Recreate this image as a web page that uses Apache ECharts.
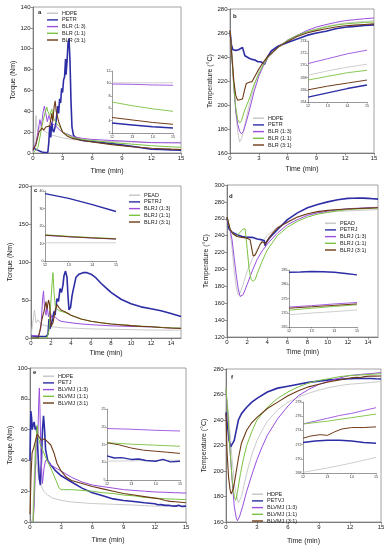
<!DOCTYPE html>
<html><head><meta charset="utf-8">
<script src="https://cdn.jsdelivr.net/npm/echarts@6/dist/echarts.min.js"></script>
<style>html,body{margin:0;padding:0;background:#fff}#c{width:388px;height:550px}</style>
</head><body><div id="c"></div>
<script>
// ---------- Panel a : torque, HDPE / PETR / BLR ----------
const namesA = ['HDPE','PETR','BLR (1:3)','BLR (1:1)','BLR (3:1)'];
const aHDPE = [[0,0],[0.15,5],[0.3,36],[0.45,20],[0.7,25],[1.0,22],[1.5,19],[2,17],[3,14.5],[4,13],[5,12],[6,11.5],[8,11],[10,10.6]];
const aPETR = [[0,5],[0.2,6],[0.4,3],[0.6,2],[0.9,1],[1.2,0.5],[1.5,0.5],[1.6,10],[1.7,26],[1.8,15],[1.9,30],[2.0,22],[2.1,20],[2.3,27],[2.5,45],[2.6,38],[2.7,52],[2.8,48],[2.9,62],[3.0,58],[3.1,70],[3.2,73],[3.3,90],[3.35,75],[3.45,88],[3.55,105],[3.65,110],[3.75,88],[3.85,50],[3.95,25],[4.1,17],[4.4,14],[5,12],[6,11],[8,9],[10,6.5],[11,5]];
const aBLR13 = [[0,2],[0.3,10],[0.5,20],[0.7,32],[0.85,25],[1.0,38],[1.15,45],[1.3,38],[1.45,30],[1.6,36],[1.8,30],[2.0,28],[2.3,26],[2.7,22],[3,20],[4,16],[5,14],[6,13],[8,12],[10,11]];
const aBLR11 = [[0,0],[0.5,5],[0.8,20],[1.0,30],[1.2,38],[1.4,44],[1.5,40],[1.7,36],[1.9,42],[2.1,33],[2.4,28],[2.8,24],[3,20],[4,15],[5,13],[6,12],[8,10],[10,8.5]];
const aBLR31 = [[0,3],[0.3,8],[0.6,20],[0.9,24],[1.1,22],[1.3,25],[1.5,24],[1.7,26],[1.9,38],[2.0,30],[2.15,45],[2.25,50],[2.35,40],[2.6,30],[3,20],[3.5,16],[4,14],[5,12],[6,10.5],[8,8],[10,6]];
const aInsHDPE = [[12,10.1],[13,10.1],[14,10.1],[15,10.1]];
const aInsPETR = [[12,3.6],[13,3.3],[14,3.0],[15,2.8]];
const aInsBLR13 = [[12,9.9],[13,9.85],[14,9.75],[15,9.7]];
const aInsBLR11 = [[12,7.0],[13,6.4],[14,5.9],[15,5.5]];
const aInsBLR31 = [[12,4.5],[13,4.1],[14,3.7],[15,3.4]];

// ---------- Panel b : temperature, HDPE / PETR / BLR ----------
const bHDPE = [[0,262],[0.2,245],[0.4,218],[0.6,195],[0.8,178],[1.0,169],[1.2,172],[1.5,182],[2,200],[2.5,215],[3,228],[3.5,236],[4,242],[5,249],[6,254],[7,258],[8,261],[9,263.5],[10,265.5],[11,267]];
const bPETR = [[0,262],[0.15,250],[0.3,246],[0.6,245.5],[0.9,246],[1.1,247],[1.3,248],[1.45,249],[1.55,241],[1.7,240],[2.0,239],[2.3,238],[2.6,237.5],[2.9,236],[3.2,236],[3.4,234.5],[3.6,234],[3.7,236],[3.9,240],[4.3,245],[5,249],[6,252],[7,255],[8,258],[9,260],[10,261.5],[11,263.5]];
const bBLR13 = [[0,262],[0.2,240],[0.4,215],[0.6,195],[0.8,184],[1.0,178],[1.2,176],[1.4,178],[1.7,186],[2,195],[2.5,211],[3,224],[3.5,233],[4,240],[5,248],[6,254],[7,258],[8,262],[9,265],[10,267],[11,268.8]];
const bBLR11 = [[0,262],[0.2,240],[0.4,215],[0.6,198],[0.8,188],[1.0,185],[1.2,187],[1.5,195],[2,205],[2.5,217],[3,226],[3.5,234],[4,240],[5,248],[6,254],[7,258],[8,261],[9,263],[10,265],[11,266.5]];
const bBLR31 = [[0,262],[0.2,240],[0.4,220],[0.6,208],[0.8,204],[1.0,204],[1.3,205],[1.5,212],[1.7,218],[2.0,219],[2.3,219.5],[2.6,224],[3,230],[3.5,236],[4,241],[5,248],[6,253],[7,257],[8,260],[9,262],[10,263.5],[11,265]];
const bInsHDPE = [[12,268.4],[13,269.1],[14,269.7],[15,270.2]];
const bInsPETR = [[12,264.8],[13,265.5],[14,266.2],[15,266.8]];
const bInsBLR13 = [[12,270.3],[13,271.1],[14,271.9],[15,272.5]];
const bInsBLR11 = [[12,267.6],[13,268.2],[14,268.8],[15,269.2]];
const bInsBLR31 = [[12,266.0],[13,266.6],[14,267.1],[15,267.6]];

// ---------- Panel c : torque, PEAD / PETRJ / BLRJ ----------
const namesC = ['PEAD','PETRJ','BLRJ (1:3)','BLRJ (1:1)','BLRJ (3:1)'];
const cPEAD = [[0,3],[0.2,3],[0.35,37],[0.5,20],[0.7,24],[1.0,18],[1.5,16],[2,15],[3,13.5],[4,13],[6,12],[8,11.5],[10,11],[11,10.7]];
const cPETRJ = [[0,3],[0.5,2],[1.0,2],[1.5,2],[1.7,5],[1.8,25],[1.9,12],[2.1,22],[2.3,35],[2.4,30],[2.6,52],[2.75,48],[2.9,65],[3.05,60],[3.2,70],[3.3,82],[3.45,88],[3.6,80],[3.7,55],[3.8,37],[3.95,40],[4.1,55],[4.2,62],[4.3,68],[4.5,80],[4.8,84],[5.2,86],[5.6,86],[6,84],[6.5,79],[7,72],[7.5,66],[8,60],[9,51],[10,45],[11,41]];
const cBLRJ13 = [[0,3],[0.8,3],[1.0,15],[1.15,50],[1.25,62],[1.35,40],[1.5,30],[1.6,42],[1.75,28],[1.9,35],[2.1,26],[2.4,28],[2.7,24],[3,22],[4,20],[5,18.5],[6,17.5],[8,16],[10,15.2],[11,15]];
const cBLRJ11 = [[0,0],[1.6,0],[1.8,10],[2.0,50],[2.15,80],[2.2,86],[2.3,60],[2.45,40],[2.6,38],[2.8,36],[3,35],[3.5,33],[4,30],[5,25],[6,22],[7,20],[8,18.5],[10,16.5],[11,15.6]];
const cBLRJ31 = [[0,0],[0.7,0],[0.9,10],[1.1,25],[1.3,35],[1.5,48],[1.6,38],[1.75,50],[1.85,45],[2.0,15],[2.2,20],[2.4,35],[2.6,44],[2.8,40],[3,37],[3.5,34],[4,30],[5,25],[6,22],[7,20],[8,18.5],[10,16.3],[11,15.3]];
const cInsPEAD = [[12,10.4],[13,10.4],[14,10.4],[15,10.4]];
const cInsPETRJ = [[12,38.5],[13,35.8],[14,32.2],[15,28.3]];
const cInsBLRJ13 = [[12,14.6],[13,13.8],[14,13.1],[15,12.5]];
const cInsBLRJ11 = [[12,15.0],[13,14.1],[14,13.4],[15,12.8]];
const cInsBLRJ31 = [[12,14.8],[13,13.9],[14,13.2],[15,12.6]];

// ---------- Panel d : temperature, PEAD / PETRJ / BLRJ ----------
const dPEAD = [[0,262],[0.3,245],[0.5,225],[0.7,200],[0.9,180],[1.1,170],[1.3,172],[1.6,182],[2,198],[2.5,212],[3,224],[3.5,233],[4,240],[5,250],[6,257],[7,262],[8,265],[9,267],[10,268],[11,268.8]];
const dPETRJ = [[0,262],[0.2,248],[0.5,244],[1.0,241],[1.5,239],[2,238],[2.5,238],[3,236],[3.5,235],[3.7,234],[3.8,228],[3.9,232],[4.2,237],[4.6,242],[5,247],[5.5,253],[6,259],[7,267],[8,273],[9,277],[10,280],[11,282.5]];
const dBLRJ13 = [[0,262],[0.3,248],[0.5,235],[0.7,215],[0.9,195],[1.1,178],[1.3,168],[1.4,166],[1.6,170],[2,182],[2.5,198],[3,212],[3.5,222],[4,230],[5,243],[6,253],[7,259],[8,264],[9,267],[10,269],[11,270.5]];
const dBLRJ11 = [[0,262],[0.3,248],[0.6,242],[1.0,240],[1.3,244],[1.6,248],[1.8,248],[2.0,225],[2.2,200],[2.4,188],[2.6,186],[2.8,188],[3,195],[3.5,210],[4,223],[5,240],[6,250],[7,257],[8,262],[9,265.5],[10,267.5],[11,269.5]];
const dBLRJ31 = [[0,262],[0.3,248],[0.6,242],[1.0,239],[1.5,238],[2.0,237],[2.3,235],[2.5,222],[2.6,216],[2.8,217],[3.0,222],[3.3,230],[3.5,233],[3.8,230],[4.2,238],[4.6,244],[5,249],[6,256],[7,262],[8,266],[9,268.5],[10,270],[11,271]];
const dInsPEAD = [[12,269.3],[13,269.9],[14,270.4],[15,271.0]];
const dInsPETRJ = [[12,284.2],[12.5,284.3],[13,284.5],[13.5,284.4],[14,284.2],[14.5,283.8],[15,283.3]];
const dInsBLRJ13 = [[12,272.0],[13,272.5],[14,273.1],[15,273.6]];
const dInsBLRJ11 = [[12,270.9],[13,271.6],[14,272.2],[15,272.8]];
const dInsBLRJ31 = [[12,271.6],[13,272.1],[14,272.6],[15,273.1]];

// ---------- Panel e : torque, HDPE / PETJ / BLVMJ ----------
const namesE = ['HDPE','PETJ','BLVMJ (1:3)','BLVMJ (1:1)','BLVMJ (3:1)'];
const eHDPE = [[0,0],[0.25,2],[0.4,30],[0.5,50],[0.6,40],[0.8,30],[1.0,25],[1.3,20],[1.7,17.5],[2.2,15.5],[3,14],[4,13],[5,12.5],[6,12],[8,11.5],[10,11],[11,10.6]];
const ePETJ = [[0,40],[0.08,72],[0.15,68],[0.22,60],[0.3,63],[0.4,65],[0.5,60],[0.6,62],[0.7,55],[0.8,40],[0.9,28],[1.0,24],[1.1,40],[1.2,60],[1.3,69],[1.4,60],[1.5,47],[1.7,40],[2,37],[2.5,33],[3,30],[4,26],[5,22],[6,19],[7,17],[8,15],[9,14],[10,13.3],[11,12.5]];
const eBLVMJ13 = [[0,0],[0.3,0],[0.4,10],[0.55,40],[0.65,58],[0.75,55],[0.85,80],[0.9,87],[0.95,75],[1.05,45],[1.15,30],[1.2,25],[1.35,35],[1.5,40],[1.7,40],[2,37],[2.5,35],[3,33],[4,29],[5,26],[6,24],[7,23],[8,22],[9,21],[10,20.5],[11,20]];
const eBLVMJ11 = [[0,0],[0.3,0],[0.45,30],[0.6,55],[0.7,63],[0.8,55],[1.0,50],[1.2,47],[1.5,42],[2,35],[2.5,27],[2.8,22],[3,21],[4,21],[5,20.5],[6,20],[7,19],[8,18.5],[9,17.5],[10,17],[11,16]];
const eBLVMJ31 = [[0,5],[0.1,30],[0.2,45],[0.35,48],[0.5,52],[0.7,57],[0.9,55],[1.1,53],[1.4,54],[1.7,52],[2,50],[2.3,45],[2.6,38],[3,33],[3.5,29],[4,27],[5,25],[6,23],[7,21.5],[8,20],[9,18.5],[10,17.5],[11,16.5]];
const eInsHDPE = [[12,10.3],[13,10.4],[14,10.5],[15,10.6]];
const eInsPETJ = [[12,11.8],[12.3,11.2],[12.6,11.3],[13,10.8],[13.3,10.9],[13.6,10.5],[14,10.3],[14.3,10.8],[14.6,10.1],[15,10.3]];
const eInsBLVMJ13 = [[12,19.5],[13,19.3],[14,19.0],[15,18.8]];
const eInsBLVMJ11 = [[12,15.5],[13,15.1],[14,14.8],[15,14.5]];
const eInsBLVMJ31 = [[12,15.5],[12.5,14.9],[13,14.0],[13.5,13.4],[14,13.1],[14.5,12.8],[15,12.5]];

// ---------- Panel f : temperature, HDPE / PETVJ / BLVMJ ----------
const namesF = ['HDPE','PETVJ','BLVMJ (1:3)','BLVMJ (1:1)','BLVMJ (3:1)'];
const fHDPE = [[0,263],[0.3,240],[0.6,208],[0.9,185],[1.2,175],[1.5,180],[2,198],[2.5,213],[3,224],[3.5,232],[4,239],[5,248],[6,254],[7,258],[8,261],[9,263.5],[10,265.5],[11,267]];
const fPETVJ = [[0,246],[0.15,235],[0.3,224],[0.45,219],[0.6,218],[0.8,224],[1.0,232],[1.2,240],[1.5,245],[2,250],[2.5,254],[3,257],[4,262],[5,265],[6,266.5],[7,268],[8,269.5],[9,270.5],[10,271.5],[11,272]];
const fBLVMJ13 = [[0,263],[0.2,240],[0.4,215],[0.6,192],[0.8,172],[1.0,163],[1.1,161],[1.3,164],[1.6,172],[2,184],[2.5,197],[3,209],[3.5,219],[4,228],[5,241],[6,251],[7,259],[8,264],[9,268],[10,270.5],[11,273]];
const fBLVMJ11 = [[0,265],[0.2,243],[0.4,215],[0.6,193],[0.8,180],[0.95,177],[1.1,183],[1.4,198],[1.7,210],[2,220],[2.5,231],[3,240],[4,250],[5,257],[6,262],[7,266],[8,269],[9,271],[10,272.5],[11,274]];
const fBLVMJ31 = [[0,245],[0.1,215],[0.25,195],[0.4,185],[0.5,182],[0.7,186],[0.9,195],[1.2,210],[1.5,222],[2,232],[2.5,238],[3,242],[4,249],[5,254],[6,259],[7,263],[8,266],[9,268],[10,270],[11,271.5]];
const fInsHDPE = [[12,268.1],[13,268.7],[14,269.4],[15,270.2]];
const fInsPETVJ = [[12,272.3],[12.5,272.5],[13,272.6],[13.5,272.6],[14,272.5],[14.5,272.3],[15,272.2]];
const fInsBLVMJ13 = [[12,274.9],[12.5,275.3],[13,275.7],[13.5,276.1],[14,276.4],[14.5,276.8],[15,277.2]];
const fInsBLVMJ11 = [[12,274.9],[13,275.3],[14,275.8],[15,276.3]];
const fInsBLVMJ31 = [[12,272.9],[12.3,273.2],[12.7,273.4],[13,273.3],[13.3,273.8],[13.6,274.2],[14,274.4],[14.5,274.4],[15,274.5]];

// ---------- styling / layout ----------
const FONT = "'Liberation Sans', Arial, sans-serif";
const COLORS = ['#c4c4c4','#2d2da6','#9a4fdc','#7cc242','#6e3a16'];
const WIDTHS = [0.9,1.6,1.0,1.0,1.1];
const TORQUE = 'Torque (Nm)', TEMP = 'Temperature (°C)';

const panels = [
 {names:namesA, main:[aHDPE,aPETR,aBLR13,aBLR11,aBLR31], ins:[aInsHDPE,aInsPETR,aInsBLR13,aInsBLR11,aInsBLR31],
  grid:{left:33,top:7,width:148,height:146}, igrid:{left:112,top:71,width:61,height:62},
  xi:3, y:[0,140,20], iy:[2,12,2], yName:TORQUE, yGap:8.5, xGap:15, leg:{left:47,top:10}, letter:['a',38,9]},
 {names:namesA, main:[bHDPE,bPETR,bBLR13,bBLR11,bBLR31], ins:[bInsHDPE,bInsPETR,bInsBLR13,bInsBLR11,bInsBLR31],
  grid:{left:230,top:9,width:144,height:144}, igrid:{left:308,top:41,width:59,height:61},
  xi:3, y:[160,280,20], iy:[264,274,2], yName:TEMP, yGap:16.5, xGap:13, leg:{left:253,top:115}, letter:['b',233,13]},
 {names:namesC, main:[cPEAD,cPETRJ,cBLRJ13,cBLRJ11,cBLRJ31], ins:[cInsPEAD,cInsPETRJ,cInsBLRJ13,cInsBLRJ11,cInsBLRJ31],
  grid:{left:31,top:186,width:150,height:152}, igrid:{left:45,top:191,width:71,height:70},
  xi:2, y:[0,200,50], iy:[0,40,10], yName:TORQUE, yGap:17.5, xGap:12, leg:{left:129,top:192}, letter:['c',34,187]},
 {names:namesC, main:[dPEAD,dPETRJ,dBLRJ13,dBLRJ11,dBLRJ31], ins:[dInsPEAD,dInsPETRJ,dInsBLRJ13,dInsBLRJ11,dInsBLRJ31],
  grid:{left:227,top:185,width:151,height:152}, igrid:{left:289,top:270,width:68,height:57},
  xi:2, y:[120,300,20], iy:[265,285,5], yName:TEMP, yGap:17.5, xGap:12, leg:{left:325,top:220}, letter:['d',229,193]},
 {names:namesE, main:[eHDPE,ePETJ,eBLVMJ13,eBLVMJ11,eBLVMJ31], ins:[eInsHDPE,eInsPETJ,eInsBLVMJ13,eInsBLVMJ11,eInsBLVMJ31],
  grid:{left:30,top:368,width:156,height:154}, igrid:{left:107,top:409,width:73,height:71},
  xi:3, y:[0,100,20], iy:[5,25,5], yName:TORQUE, yGap:15.5, xGap:15, leg:{left:43,top:373}, letter:['e',33,369]},
 {names:namesF, main:[fHDPE,fPETVJ,fBLVMJ13,fBLVMJ11,fBLVMJ31], ins:[fInsHDPE,fInsPETVJ,fInsBLVMJ13,fInsBLVMJ11,fInsBLVMJ31],
  grid:{left:226,top:369,width:155,height:153}, igrid:{left:303,top:402,width:73,height:71},
  xi:3, y:[160,280,20], iy:[268,278,2], yName:TEMP, yGap:18.5, xGap:16, leg:{left:252,top:491}, letter:['f',231,374]}
];

const grid=[], xAxis=[], yAxis=[], series=[], legend=[], graphic=[];
const axCol = '#666', txtCol = '#222';
panels.forEach((p,k)=>{
  const gi = 2*k, ii = 2*k+1;
  grid.push(Object.assign({show:true,borderColor:'#8a8a8a',borderWidth:0.8,backgroundColor:'transparent'}, p.grid));
  grid.push(Object.assign({show:false}, p.igrid));
  xAxis.push({gridIndex:gi,type:'value',min:0,max:15,interval:p.xi,
    axisLine:{show:true,onZero:false,lineStyle:{color:axCol,width:0.8}},
    axisTick:{show:true,length:2.5,lineStyle:{color:axCol,width:0.7}},
    splitLine:{show:false},
    axisLabel:{fontSize:6,color:txtCol,margin:2.5,fontFamily:FONT,showMaxLabel:p.xi===3},
    name:'Time (min)',nameLocation:'middle',nameGap:p.xGap,nameTextStyle:{fontSize:7,color:txtCol,fontFamily:FONT}});
  yAxis.push({gridIndex:gi,type:'value',min:p.y[0],max:p.y[1],interval:p.y[2],
    axisLine:{show:true,onZero:false,lineStyle:{color:axCol,width:0.8}},
    axisTick:{show:true,length:2.5,lineStyle:{color:axCol,width:0.7}},
    splitLine:{show:false},
    axisLabel:{fontSize:6,color:txtCol,margin:2.5,fontFamily:FONT},
    name:p.yName,nameLocation:'middle',nameGap:p.yGap,nameTextStyle:{fontSize:7,color:txtCol,fontFamily:FONT}});
  xAxis.push({gridIndex:ii,type:'value',min:12,max:15,interval:1,
    axisLine:{show:true,onZero:false,lineStyle:{color:'#555',width:0.6}},
    axisTick:{show:true,length:1.5,lineStyle:{color:'#555',width:0.5}},
    splitLine:{show:false},
    axisLabel:{fontSize:3.6,color:'#333',margin:1.5,fontFamily:FONT}});
  yAxis.push({gridIndex:ii,type:'value',min:p.iy[0],max:p.iy[1],interval:p.iy[2],
    axisLine:{show:true,onZero:false,lineStyle:{color:'#555',width:0.6}},
    axisTick:{show:true,length:1.5,lineStyle:{color:'#555',width:0.5}},
    splitLine:{show:false},
    axisLabel:{fontSize:3.6,color:'#333',margin:1.5,fontFamily:FONT}});
  for(let i=0;i<5;i++){
    const base = {type:'line',name:p.names[i],showSymbol:false,symbol:'none',animation:false,
      lineStyle:{color:COLORS[i],width:WIDTHS[i]},itemStyle:{color:COLORS[i]},z:2+i*0.1};
    series.push(Object.assign({},base,{xAxisIndex:gi,yAxisIndex:gi,data:p.main[i].concat(p.ins[i])}));
    series.push(Object.assign({},base,{xAxisIndex:ii,yAxisIndex:ii,data:p.ins[i],
      lineStyle:{color:COLORS[i],width:WIDTHS[i]*0.9}}));
  }
  legend.push({orient:'vertical',left:p.leg.left,top:p.leg.top,itemWidth:11,itemHeight:1.4,itemGap:0.3,
    icon:'rect',selectedMode:false,padding:0,
    textStyle:{fontSize:5.5,lineHeight:6.4,color:txtCol,fontFamily:FONT,padding:[0,0,0,-1]},
    data:p.names.map((n,i)=>({name:n,itemStyle:{color:COLORS[i]}}))});
  graphic.push({type:'text',left:p.letter[1],top:p.letter[2],
    style:{text:p.letter[0],font:'bold 6px '+FONT,fill:txtCol}});
});

const chart = echarts.init(document.getElementById('c'),null,{renderer:'canvas'});
chart.setOption({animation:false,backgroundColor:'#fff',grid,xAxis,yAxis,series,legend,graphic});
</script></body></html>
